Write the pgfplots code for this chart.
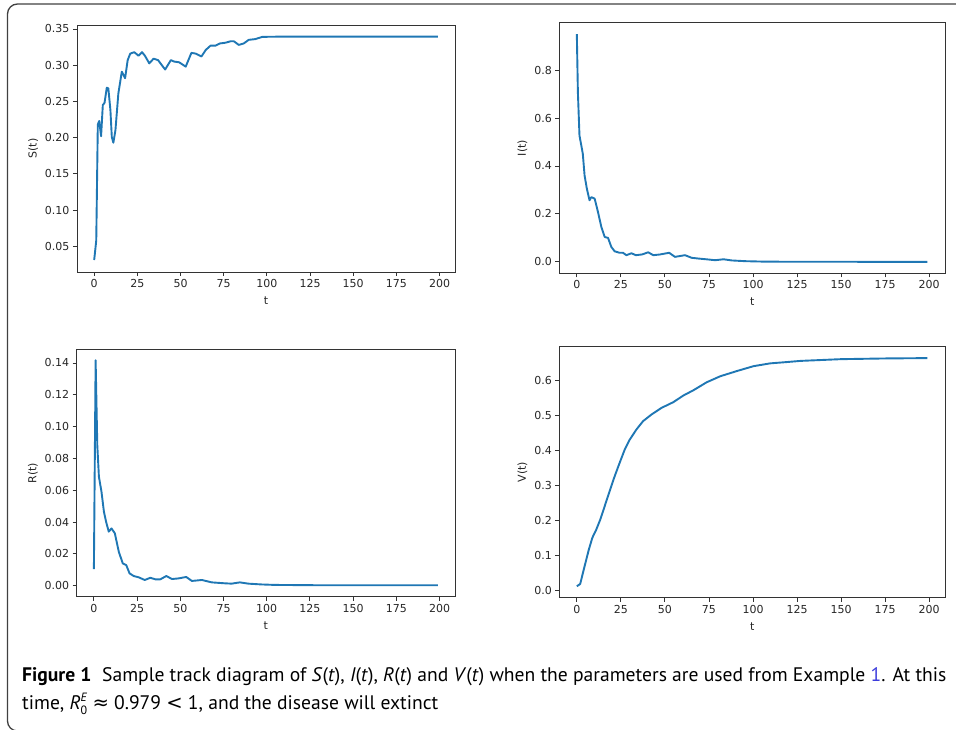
\documentclass[border=0pt]{standalone}
\usepackage{fontspec}
\setmainfont{DejaVu Sans}
\newfontfamily\capfont{PT Sans}
\newfontfamily\symfont{DejaVu Sans}
\usepackage{pgfplots}
\pgfplotsset{compat=1.18}
\definecolor{mplblue}{HTML}{1F77B4}
\definecolor{linkblue}{HTML}{3C3CDC}
\pgfplotsset{
  trackplot/.style={
    scale only axis,
    anchor=south west,
    xmin=-9.95, xmax=208.95,
    xtick={0,25,...,200},
    tick align=outside,
    xtick pos=left, ytick pos=left,
    major tick length=4pt,
    axis line style={black!80, line width=0.9pt},
    every tick/.style={black!80, line width=0.9pt},
    tick label style={font=\fontsize{11}{13}\selectfont, text=black!85},
    label style={font=\fontsize{11}{13}\selectfont, text=black!85},
    xlabel style={yshift=-2pt},
    /pgf/number format/assume math mode=true,
    scaled y ticks=false,
    xlabel={t},
  },
  trackline/.style={mplblue, line width=1.9pt, line join=round, no marks},
  twodec/.style={yticklabel style={/pgf/number format/.cd, fixed, fixed zerofill, precision=2}},
  onedec/.style={yticklabel style={/pgf/number format/.cd, fixed, fixed zerofill, precision=1}},
}
\begin{document}
\begin{tikzpicture}[x=1pt,y=1pt]
\useasboundingbox (0,0) rectangle (956,730);
\draw[black!75, line width=1.3pt, rounded corners=10pt] (960,726) -- (7.5,726) -- (7.5,-1) -- (25,-1);

% S(t)
\begin{axis}[trackplot, twodec, at={(77pt,458pt)}, width=378pt, height=247pt,
  ymin=0.0145, ymax=0.3555, ytick={0.05,0.10,0.15,0.20,0.25,0.30,0.35}, ylabel={S(t)}]
\addplot[trackline] coordinates {(0,0.031) (1.2,0.058) (2.1,0.218) (2.9,0.223) (4.0,0.202) (5.0,0.245) (6.0,0.248) (7.3,0.269) (8.2,0.268) (9.4,0.238) (10.2,0.201) (11.1,0.193) (12.3,0.210) (14,0.261) (16,0.291) (17.5,0.284) (17.9,0.282) (19.4,0.307) (20.9,0.316) (23.2,0.318) (25.7,0.313) (27.7,0.318) (29.4,0.313) (31.9,0.3025) (34.4,0.309) (37,0.307) (41.1,0.294) (44.4,0.307) (46.3,0.305) (49.2,0.304) (53,0.298) (56.3,0.317) (58.8,0.316) (62.1,0.312) (64.6,0.321) (67.4,0.327) (70.3,0.327) (72.8,0.330) (76,0.331) (79,0.333) (80.9,0.333) (83.7,0.328) (86.6,0.330) (89.5,0.335) (93.3,0.336) (97.2,0.339) (102,0.3393) (120,0.3395) (150,0.3395) (199,0.3395)};
\end{axis}

% I(t)
\begin{axis}[trackplot, onedec, at={(559.3pt,456.7pt)}, width=385.7pt, height=250.6pt,
  ymin=-0.0475, ymax=0.9975, ytick={0,0.2,0.4,0.6,0.8}, ylabel={I(t)}]
\addplot[trackline] coordinates {(0,0.95) (0.6,0.707) (1.5,0.527) (2.9,0.471) (3.4,0.45) (4.4,0.36) (5.7,0.305) (7.2,0.257) (8.2,0.27) (10.1,0.264) (12,0.208) (13.9,0.146) (15.8,0.104) (17.7,0.10) (19.6,0.062) (21.5,0.044) (24.3,0.038) (26.2,0.038) (28.1,0.028) (31,0.036) (33.5,0.028) (37,0.031) (40.5,0.040) (43.4,0.028) (47.2,0.031) (52.4,0.038) (55.7,0.021) (61.4,0.028) (65.2,0.017) (69,0.014) (74.7,0.010) (78.5,0.007) (83.2,0.011) (88,0.006) (95.6,0.003) (107,0.001) (130,0.0005) (199,0.0003)};
\end{axis}

% R(t)
\begin{axis}[trackplot, twodec, at={(76.7pt,133.3pt)}, width=378.3pt, height=247.4pt,
  ymin=-0.0069, ymax=0.1486, ytick={0,0.02,0.04,0.06,0.08,0.10,0.12,0.14}, ylabel={R(t)}]
\addplot[trackline] coordinates {(0,0.0105) (1.0,0.1417) (1.96,0.0884) (2.9,0.0685) (4.4,0.059) (5.8,0.0465) (7.1,0.040) (8.6,0.034) (10.2,0.036) (12.1,0.033) (14.4,0.0214) (16.7,0.014) (18.7,0.013) (20.6,0.0078) (23,0.0061) (25.9,0.0053) (29.4,0.0036) (32.7,0.005) (35.6,0.004) (38.4,0.004) (41.9,0.0061) (45.2,0.0042) (49,0.0046) (53.4,0.0055) (56.7,0.003) (62.5,0.0036) (68.2,0.0021) (75.9,0.0015) (79.7,0.0013) (84.5,0.0021) (89.3,0.0013) (97,0.0008) (104.7,0.0005) (130,0.0003) (199,0.0003)};
\end{axis}

% V(t)
\begin{axis}[trackplot, onedec, at={(559.3pt,132.3pt)}, width=385.7pt, height=251pt,
  ymin=-0.0212, ymax=0.6956, ytick={0,0.1,0.2,0.3,0.4,0.5,0.6}, ylabel={V(t)}]
\addplot[trackline] coordinates {(0,0.0114) (1.9,0.018) (4.4,0.0686) (6.8,0.116) (8.8,0.15) (11,0.173) (13.3,0.202) (15.8,0.24) (18.6,0.283) (21.5,0.326) (24.3,0.364) (27.2,0.402) (30,0.43) (33.8,0.459) (37.6,0.483) (42.4,0.502) (48.1,0.521) (54.7,0.537) (60.4,0.556) (66.1,0.571) (73.7,0.594) (81.3,0.611) (90.8,0.626) (100.3,0.64) (109.8,0.648) (117.4,0.651) (126.9,0.655) (150,0.660) (175,0.662) (199,0.663)};
\end{axis}

\node[anchor=base west, inner sep=0, font=\capfont\fontsize{19.6}{24}\selectfont] at (22,48)
  {\textbf{Figure 1}\hspace{0.55em}Sample track diagram of \textit{S}(\textit{t}), \textit{I}(\textit{t}), \textit{R}(\textit{t}) and \textit{V}(\textit{t}) when the parameters are used from Example \textcolor{linkblue}{1}. At this};
\node[anchor=base west, inner sep=0, font=\capfont\fontsize{19.6}{24}\selectfont] at (22,20)
  {time, \textit{R}\rlap{\raisebox{0.85ex}{\fontsize{12}{12}\selectfont\textit{E}}}\raisebox{-0.5ex}{\fontsize{12}{12}\selectfont 0} {\symfont ≈} 0.979 {\symfont <} 1, and the disease will extinct};
\end{tikzpicture}
\end{document}
